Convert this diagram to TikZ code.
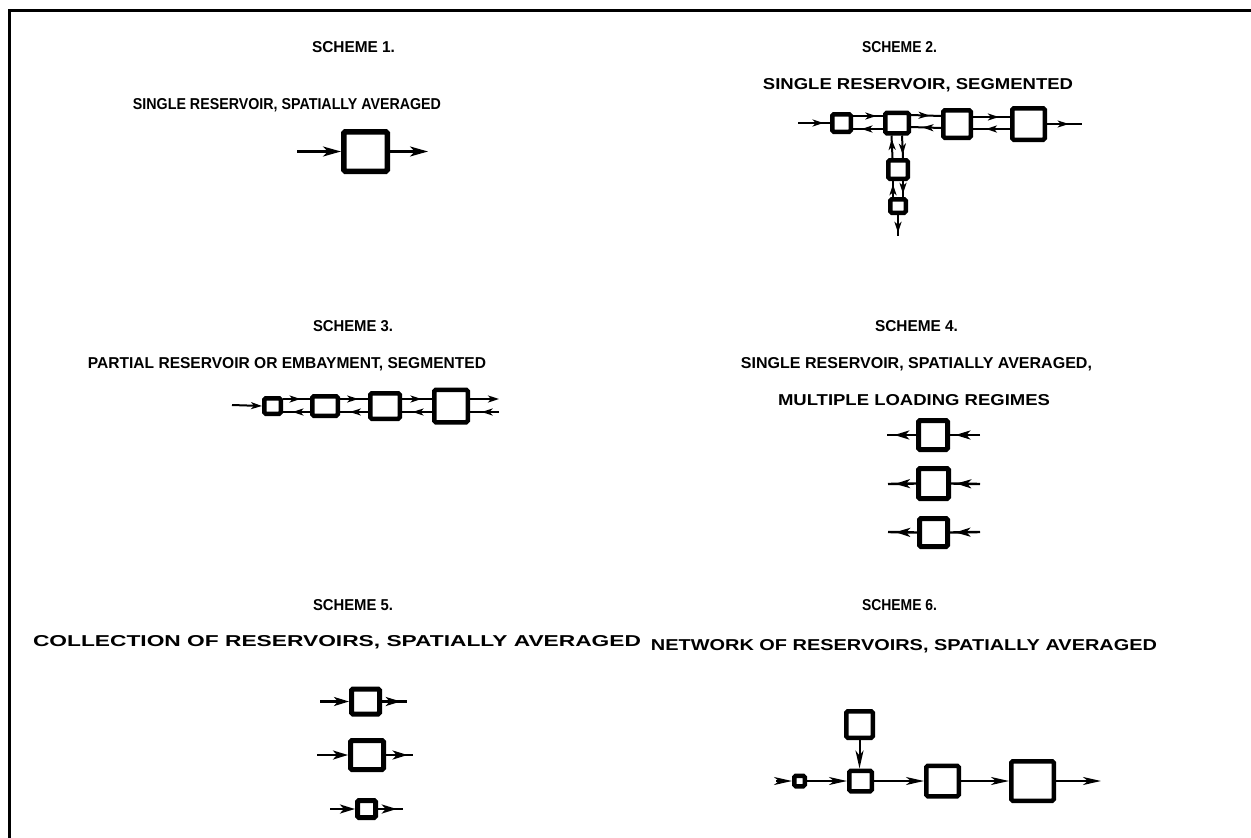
\documentclass[tikz,border=0pt]{standalone}
\usepackage{fontspec}
\setmainfont{Liberation Sans}
\usetikzlibrary{arrows.meta,decorations.markings}
\newcommand\fitlbl[3]{\resizebox{#1pt}{#2pt}{\bfseries #3}}
\tikzset{
  dartL/.tip={Stealth[length=18pt,width=10pt,inset=5pt]},
  dartM/.tip={Stealth[length=15pt,width=9pt,inset=4pt]},
  dartS/.tip={Stealth[length=11pt,width=7pt,inset=3pt]},
  dartN/.tip={Stealth[length=18pt,width=8pt,inset=5pt]},
}
\begin{document}
\begin{tikzpicture}[x=1pt,y=-1pt,
  res/.style={draw, line width=5pt, rounded corners=1.5pt, inner sep=0pt, fill=white},
  ress/.style={draw, line width=4.5pt, rounded corners=1.5pt, inner sep=0pt, fill=white},
  ln/.style={line width=2.4pt},
  lnt/.style={line width=2pt},
  lbl/.style={inner sep=0pt, anchor=base},
  midS/.style={postaction={decorate,decoration={markings,mark=at position #1 with {\arrow{dartS}}}}},
  midM/.style={postaction={decorate,decoration={markings,mark=at position #1 with {\arrow{dartM}}}}},
]
\useasboundingbox (0,0) rectangle (1251,838);
% frame
\draw[line width=2.8pt] (9.5,838) -- (9.5,10.5) -- (1251,10.5);

% labels
\node[lbl] (t1a) at (353.5,52.5) {\fitlbl{83}{11}{SCHEME 1.}};
\node[lbl] (t1b) at (287,109.5) {\fitlbl{308}{11}{SINGLE RESERVOIR, SPATIALLY AVERAGED}};
\node[lbl] (t2a) at (899.5,52.5) {\fitlbl{75}{11}{SCHEME 2.}};
\node[lbl] (t2b) at (918,89.5) {\fitlbl{310}{11}{SINGLE RESERVOIR, SEGMENTED}};
\node[lbl] (t3a) at (353,331.5) {\fitlbl{80}{11}{SCHEME 3.}};
\node[lbl] (t3b) at (287,368.5) {\fitlbl{398}{11}{PARTIAL RESERVOIR OR EMBAYMENT, SEGMENTED}};
\node[lbl] (t4a) at (916.5,331.5) {\fitlbl{83}{11}{SCHEME 4.}};
\node[lbl] (t4b) at (916.5,368.5) {\fitlbl{351}{11}{SINGLE RESERVOIR, SPATIALLY AVERAGED,}};
\node[lbl] (t4c) at (914,405.5) {\fitlbl{272}{11}{MULTIPLE LOADING REGIMES}};
\node[lbl] (t5a) at (353,610.5) {\fitlbl{80}{11}{SCHEME 5.}};
\node[lbl] (t5b) at (337,646.5) {\fitlbl{608}{11}{COLLECTION OF RESERVOIRS, SPATIALLY AVERAGED}};
\node[lbl] (t6a) at (899.5,610.5) {\fitlbl{75}{11}{SCHEME 6.}};
\node[lbl] (t6b) at (904,650.5) {\fitlbl{506}{11}{NETWORK OF RESERVOIRS, SPATIALLY AVERAGED}};

% ---------- Scheme 1
\node[res, line width=5.5pt, minimum width=43.5pt, minimum height=39.5pt] (s1) at (365.5,151.5) {};
\coordinate (s1in) at (297,151.5);
\coordinate (s1out) at (428,151.5);
\draw[ln,-{dartL}] (s1in) -- (s1.west);
\draw[ln,-{dartL}] (s1.east) -- (s1out);

% ---------- Scheme 2
\node[ress, minimum width=18.5pt, minimum height=17.5pt] (a1) at (841.5,123) {};
\node[ress, minimum width=23.5pt, minimum height=20.5pt] (a2) at (897,123) {};
\node[ress, minimum width=27.5pt, minimum height=27.5pt] (a3) at (957,124) {};
\node[ress, minimum width=32.5pt, minimum height=31.5pt] (a4) at (1028.5,124) {};
\node[ress, minimum width=19.5pt, minimum height=18.5pt] (a5) at (898,169.5) {};
\node[ress, minimum width=15.5pt, minimum height=13.5pt] (a6) at (898,206) {};
\coordinate (a2in) at (798,123);
\coordinate (a2out) at (1082,124);
\coordinate (a2dn) at (898,236);
\draw[lnt,midS=0.8] (a2in) -- (a1.west);
\draw[lnt,midS=0.78] ([yshift=7pt]a1.east) -- ([yshift=7pt]a2.west);
\draw[lnt,midS=0.72] ([yshift=-6pt]a2.west) -- ([yshift=-6pt]a1.east);
\draw[lnt,midS=0.62] ([yshift=8pt]a2.east) -- ([yshift=8pt]a3.west);
\draw[lnt,midS=0.62] ([yshift=-4pt]a3.west) -- ([yshift=-4pt]a2.east);
\draw[lnt,midS=0.7] ([yshift=7pt]a3.east) -- ([yshift=7pt]a4.west);
\draw[lnt,midS=0.65] ([yshift=-5pt]a4.west) -- ([yshift=-5pt]a3.east);
\draw[lnt,midS=0.62] (a4.east) -- (a2out);
\draw[lnt,midS=0.85] ([xshift=-5.5pt]a5.north) -- ([xshift=-5.5pt]a2.south);
\draw[lnt,midS=0.85] ([xshift=5pt]a2.south) -- ([xshift=5pt]a5.north);
\draw[lnt,midS=0.8] ([xshift=-5pt]a6.north) -- ([xshift=-5pt]a5.south);
\draw[lnt,midS=0.8] ([xshift=5pt]a5.south) -- ([xshift=5pt]a6.north);
\draw[lnt,midS=0.85] (a6.south) -- (a2dn);

% ---------- Scheme 3
\node[ress, minimum width=16.5pt, minimum height=15.5pt] (c1) at (272.5,406) {};
\node[ress, minimum width=25.5pt, minimum height=19.5pt] (c2) at (325,406) {};
\node[ress, minimum width=29.5pt, minimum height=25.5pt] (c3) at (385,406) {};
\node[ress, minimum width=33.5pt, minimum height=32.5pt] (c4) at (451,406) {};
\coordinate (c3in) at (232,405);
\coordinate (c3outa) at (499,399);
\coordinate (c3outb) at (499,412);
\draw[lnt,-{dartS}] (c3in) -- (c1.west);
\draw[lnt,midS=0.65] ([yshift=7pt]c1.east) -- ([yshift=7pt]c2.west);
\draw[lnt,midS=0.65] ([yshift=-6pt]c2.west) -- ([yshift=-6pt]c1.east);
\draw[lnt,midS=0.65] ([yshift=7pt]c2.east) -- ([yshift=7pt]c3.west);
\draw[lnt,midS=0.65] ([yshift=-6pt]c3.west) -- ([yshift=-6pt]c2.east);
\draw[lnt,midS=0.65] ([yshift=7pt]c3.east) -- ([yshift=7pt]c4.west);
\draw[lnt,midS=0.65] ([yshift=-6pt]c4.west) -- ([yshift=-6pt]c3.east);
\draw[lnt,-{dartS}] (c4.east |- c3outa) -- (c3outa);
\draw[lnt,midS=0.6] (c3outb) -- (c4.east |- c3outb);

% ---------- Scheme 4
\node[res, minimum width=29pt, minimum height=29pt] (d1) at (933,435) {};
\node[res, minimum width=30pt, minimum height=30pt] (d2) at (933.5,483.5) {};
\node[res, minimum width=28pt, minimum height=28pt] (d3) at (933.5,532.5) {};
\coordinate (d1l) at (887,435); \coordinate (d1r) at (980,435);
\coordinate (d2l) at (888,484); \coordinate (d2r) at (980,484);
\coordinate (d3l) at (888,532); \coordinate (d3r) at (980,532);
\draw[ln,midM=0.75] (d1.west) -- (d1l);
\draw[ln,midM=0.82] (d1r) -- (d1.east);
\draw[ln,midM=0.75] (d2.west) -- (d2l);
\draw[ln,midM=0.82] (d2r) -- (d2.east);
\draw[ln,midM=0.75] (d3.west) -- (d3l);
\draw[ln,midM=0.82] (d3r) -- (d3.east);

% ---------- Scheme 5
\node[res, minimum width=28pt, minimum height=25pt] (e1) at (365.5,701.5) {};
\node[res, minimum width=33pt, minimum height=29pt] (e2) at (367,755) {};
\node[res, minimum width=18pt, minimum height=17pt] (e3) at (366.5,809) {};
\coordinate (e1l) at (320,701.5); \coordinate (e1r) at (407,701.5);
\coordinate (e2l) at (317,755); \coordinate (e2r) at (413,755);
\coordinate (e3l) at (330,809); \coordinate (e3r) at (403,809);
\draw[ln,-{dartM}] (e1l) -- (e1.west);
\draw[ln,midM=0.75] (e1.east) -- (e1r);
\draw[ln,-{dartM}] (e2l) -- (e2.west);
\draw[ln,midM=0.8] (e2.east) -- (e2r);
\draw[ln,-{dartM}] (e3l) -- (e3.west);
\draw[ln,midM=0.75] (e3.east) -- (e3r);

% ---------- Scheme 6
\node[ress, minimum width=10.5pt, minimum height=10.5pt] (f1) at (799.5,781) {};
\node[ress, minimum width=26.5pt, minimum height=26.5pt] (f2) at (859.5,724.5) {};
\node[ress, minimum width=22.5pt, minimum height=20.5pt] (f3) at (860.5,781) {};
\node[ress, minimum width=32.5pt, minimum height=30.5pt] (f4) at (942.5,781) {};
\node[ress, minimum width=42.5pt, minimum height=39.5pt] (f5) at (1032.5,781) {};
\coordinate (f0) at (776,781);
\coordinate (f6) at (1101,781);
\draw[lnt,-{dartN}] (f0) -- (f1.west);
\draw[lnt,-{dartN}] (f1.east) -- (f3.west);
\draw[lnt,-{dartN}] (f2.south) -- (f2.south |- f3.north);
\draw[lnt,-{dartN}] (f3.east) -- (f4.west);
\draw[lnt,-{dartN}] (f4.east) -- (f5.west);
\draw[lnt,-{dartN}] (f5.east) -- (f6);
\end{tikzpicture}
\end{document}
